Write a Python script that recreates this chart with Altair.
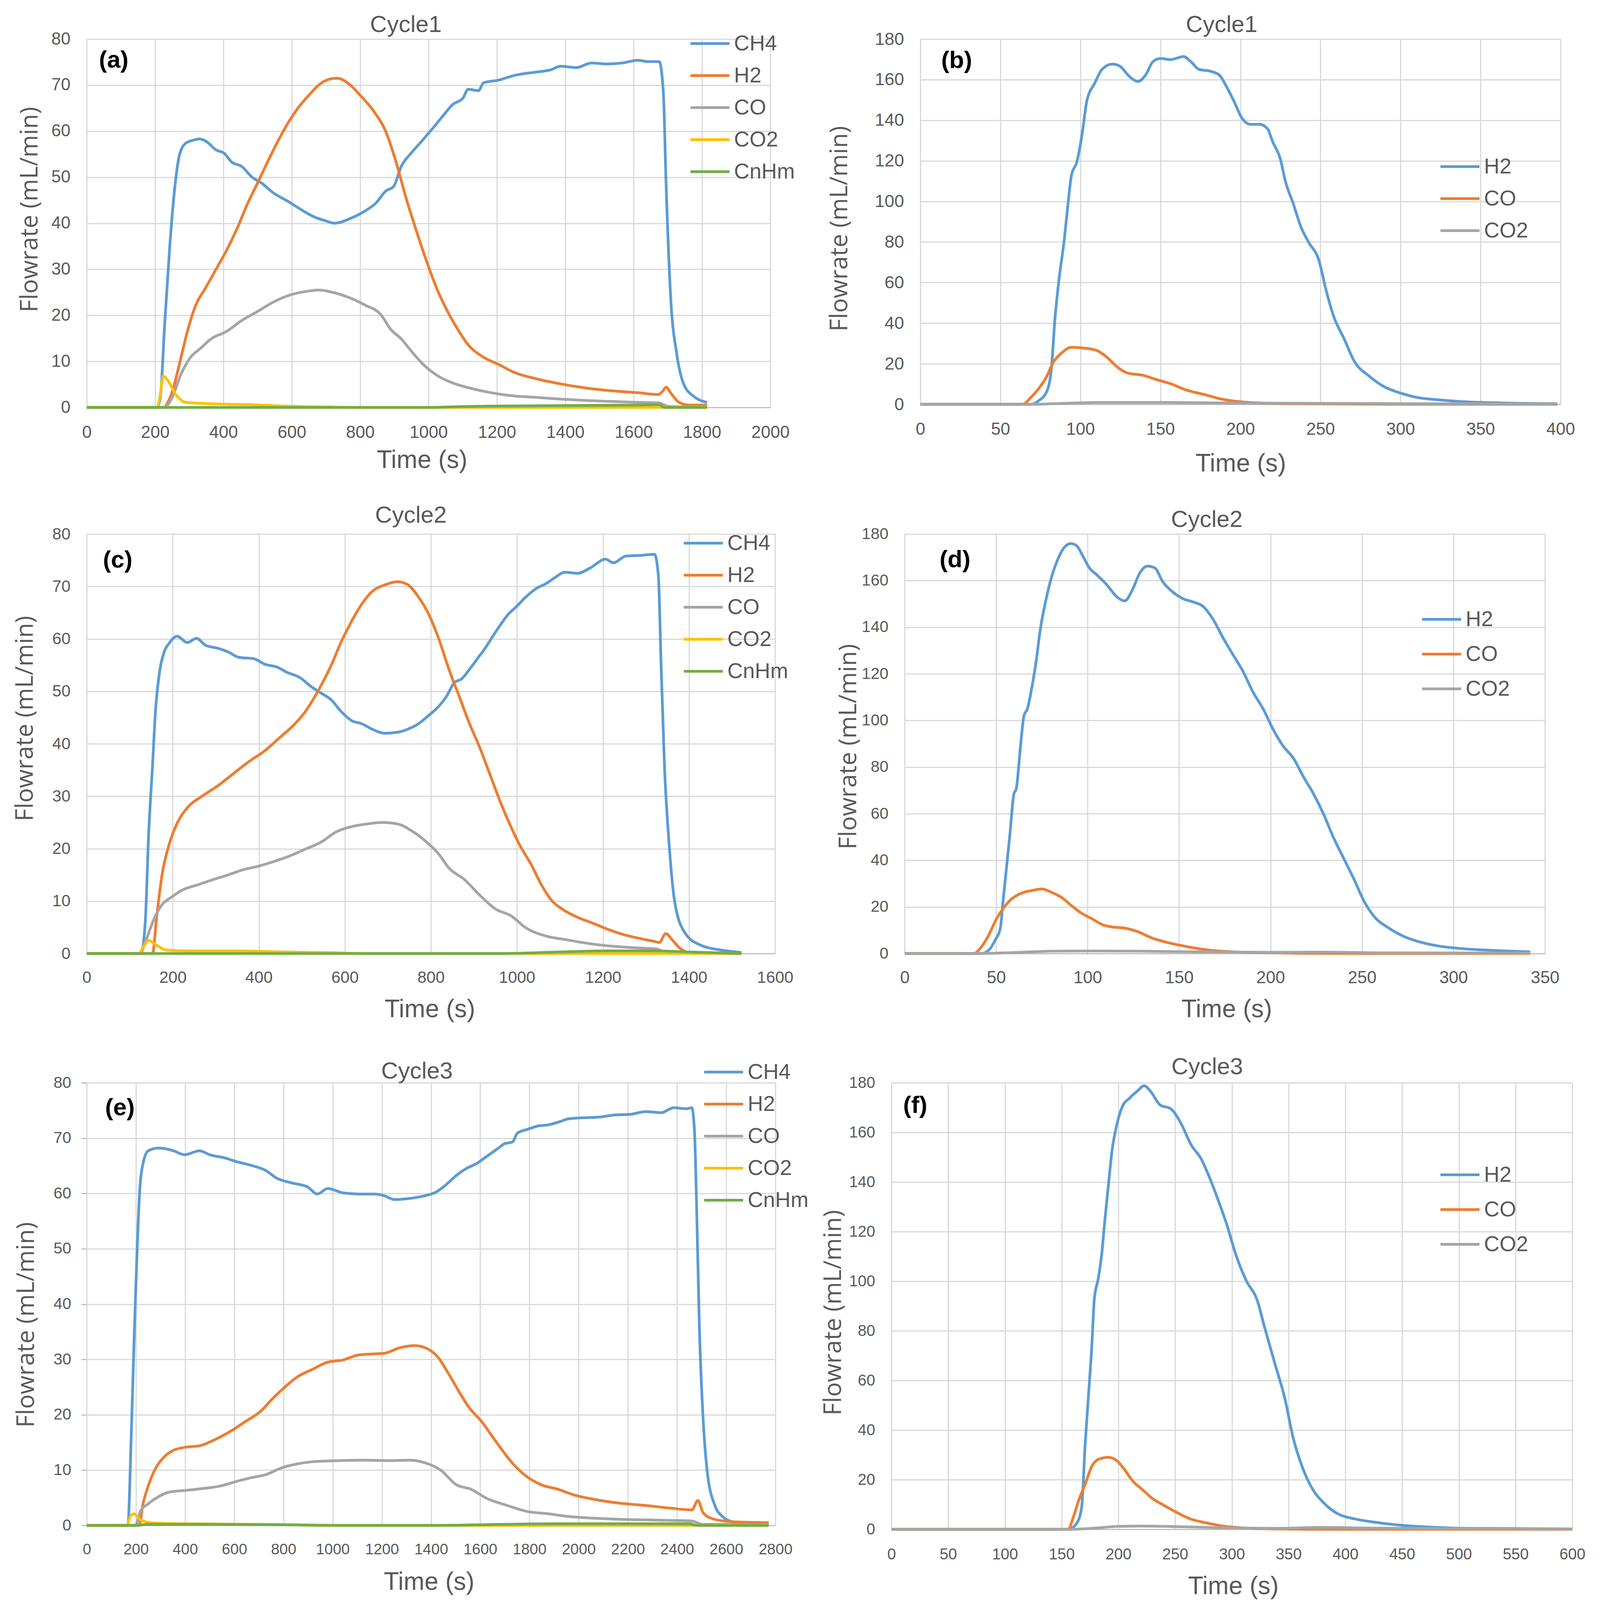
import altair as alt
import pandas as pd

# ---------------- Panel (a): Cycle1, CH4 feeding ----------------
A_CH4_T = [0, 205, 215, 228, 243, 258, 272, 290, 310, 330, 349, 379, 402, 424, 454, 484, 514, 544, 590, 620, 665, 700, 725, 770, 815, 845, 875, 898, 920, 950, 981, 1011, 1041, 1071, 1101, 1116, 1146, 1161, 1206, 1251, 1311, 1357, 1387, 1432, 1477, 1522, 1567, 1612, 1642, 1675, 1687, 1695, 1710, 1725, 1747, 1778, 1815]
A_CH4_V = [0, 0, 2, 18, 35, 48, 55, 57.4, 58, 58.3, 57.8, 55.9, 55.2, 53.3, 52.3, 50, 48.6, 46.7, 44.7, 43.3, 41.4, 40.5, 40, 41, 42.7, 44.3, 47, 48, 52.3, 55.3, 57.9, 60.5, 63.2, 65.8, 67.2, 69.1, 68.8, 70.5, 71.1, 72.1, 72.8, 73.3, 74.1, 73.8, 74.8, 74.6, 74.8, 75.4, 75.1, 75.1, 68.5, 48.6, 22, 12.2, 5, 2.3, 1.1]
A_H2_T = [0, 225, 240, 251, 274, 296, 319, 349, 379, 409, 439, 469, 499, 529, 560, 590, 620, 650, 680, 710, 732, 770, 800, 838, 875, 905, 935, 966, 996, 1026, 1056, 1086, 1116, 1161, 1206, 1251, 1311, 1387, 1462, 1537, 1612, 1672, 1685, 1695, 1710, 1733, 1763, 1815]
A_H2_V = [0, 0, 1.5, 3.6, 10.3, 16.9, 22.2, 26.1, 30.1, 34.1, 38.7, 44, 48.6, 53.3, 57.9, 61.9, 65.2, 67.8, 70.1, 71.3, 71.5, 70.1, 67.8, 64.5, 59.9, 53.3, 45.3, 38, 31.4, 25.5, 20.8, 16.9, 13.6, 10.9, 9.3, 7.6, 6.3, 5.1, 4.2, 3.6, 3.2, 2.8, 3.5, 4.4, 3.0, 1.1, 0.5, 0.5]
A_CO_T = [0, 225, 251, 274, 304, 334, 364, 409, 454, 499, 544, 590, 635, 680, 725, 770, 815, 860, 890, 920, 950, 981, 1026, 1071, 1116, 1176, 1236, 1311, 1387, 1462, 1537, 1612, 1672, 1703, 1815]
A_CO_V = [0, 0, 2.3, 6.9, 10.9, 12.9, 14.9, 16.5, 18.9, 20.8, 22.8, 24.3, 25.1, 25.5, 24.9, 23.8, 22.2, 20.2, 16.9, 14.9, 12.2, 9.6, 6.9, 5.3, 4.3, 3.3, 2.6, 2.2, 1.8, 1.5, 1.3, 1.1, 1.0, 0.2, 0.1]
A_CO2_T = [0, 206, 214, 224, 236, 259, 289, 334, 409, 484, 574, 710, 785, 1815]
A_CO2_V = [0, 0, 2.3, 6.8, 6.0, 3.0, 1.1, 0.9, 0.7, 0.6, 0.3, 0.1, 0, 0]
A_CNHM_T = [0, 1000, 1100, 1200, 1400, 1600, 1675, 1690, 1815]
A_CNHM_V = [0, 0, 0.2, 0.3, 0.4, 0.5, 0.6, 0, 0]

# ---------------- Panel (b): Cycle1, regeneration ----------------
B_H2_T = [0, 69, 74, 79, 82, 84, 86.5, 90, 92, 94.5, 97.7, 101, 104, 109, 113.6, 120, 124.7, 131, 136, 140.6, 145.4, 150, 156.5, 164.5, 169, 174, 182, 187, 191.6, 196, 201, 206, 212, 217, 220, 225, 228, 233, 237.7, 242.5, 249, 253.6, 258, 265, 271, 280.6, 290, 299.7, 309, 325, 341, 357, 373, 398]
B_H2_V = [0, 0, 1.8, 6.3, 18.4, 41, 60.5, 81.6, 96.6, 113.2, 119.2, 132.7, 149.3, 158.3, 165.1, 167.7, 166.6, 161.3, 159.1, 162.1, 168.9, 170.4, 169.9, 171.4, 168.9, 165.1, 164, 162.1, 156.1, 149.3, 141, 138, 138, 135.7, 129.7, 120.7, 110.2, 98.9, 87.6, 80, 71, 56, 43.9, 31.9, 21.4, 13.8, 8.6, 5.6, 3.6, 2.1, 1.2, 0.8, 0.5, 0.3]
B_CO_T = [0, 64, 69, 74, 79, 83, 88, 94.5, 102, 110, 117, 123, 129.5, 139, 147, 156.5, 166, 179, 188, 198, 214, 230, 262, 300, 398]
B_CO_V = [0, 0, 3.3, 7.8, 13.8, 20.6, 25.1, 28.1, 27.7, 26.6, 22.9, 18.4, 15.4, 14.3, 12.3, 10.1, 7.1, 4.5, 2.6, 1.4, 0.6, 0.3, 0.15, 0, 0]
B_CO2_T = [0, 70, 90, 110, 150, 200, 250, 300, 398]
B_CO2_V = [0, 0, 0.5, 0.9, 0.9, 0.6, 0.5, 0.3, 0.2]

# ---------------- Panel (c): Cycle2, CH4 feeding ----------------
C_CH4_T = [0, 126, 136, 144, 153, 160, 168, 180, 192, 210, 234, 255, 276, 305, 329, 353, 389, 413, 443, 466, 496, 520, 544, 568, 592, 616, 640, 663, 693, 723, 747, 771, 795, 818, 836, 854, 872, 890, 908, 926, 944, 962, 980, 997, 1021, 1045, 1069, 1087, 1111, 1141, 1170, 1206, 1224, 1254, 1284, 1320, 1329, 1335, 1343, 1355, 1367, 1391, 1427, 1475, 1522]
C_CH4_V = [0, 0, 5.9, 22.9, 35.9, 46.4, 52.9, 57.5, 59.2, 60.5, 59.3, 60.1, 58.8, 58.2, 57.5, 56.5, 56.2, 55.2, 54.6, 53.6, 52.6, 51, 49.7, 48.4, 46.1, 44.4, 43.8, 42.8, 42, 42.2, 42.8, 43.8, 45.4, 47.1, 49, 51.6, 52.4, 54.2, 56.2, 58.2, 60.5, 62.7, 64.7, 66, 68, 69.6, 70.6, 71.6, 72.7, 72.5, 73.5, 75.2, 74.5, 75.8, 75.9, 76.1, 71.9, 55.6, 35.9, 19.6, 9.8, 3.9, 1.6, 0.65, 0.2]
C_H2_T = [0, 153, 162, 174, 192, 210, 234, 270, 305, 341, 377, 413, 449, 484, 508, 526, 544, 568, 592, 616, 640, 663, 693, 723, 747, 771, 795, 818, 842, 866, 890, 914, 938, 962, 986, 1009, 1033, 1057, 1081, 1105, 1141, 1176, 1212, 1248, 1284, 1320, 1331, 1346, 1361, 1379, 1403, 1522]
C_H2_V = [0, 0, 6.5, 14.4, 20.9, 24.8, 27.8, 30.1, 32, 34.3, 36.6, 38.6, 41.2, 43.8, 46.1, 48.4, 51, 54.9, 59.5, 63.4, 66.7, 69, 70.3, 70.9, 70.3, 68, 64.7, 60.1, 54.2, 49, 43.8, 39.2, 34, 28.8, 24.2, 20.3, 17, 13.1, 10.1, 8.5, 6.9, 5.8, 4.6, 3.6, 2.9, 2.3, 2.1, 3.8, 2.6, 1.0, 0.1, 0]
C_CO_T = [0, 124, 138, 156, 174, 198, 222, 258, 294, 329, 365, 401, 437, 472, 508, 544, 580, 616, 651, 687, 723, 759, 795, 818, 842, 878, 914, 950, 986, 1021, 1069, 1117, 1176, 1236, 1296, 1326, 1343, 1391, 1522]
C_CO_V = [0, 0, 2.6, 6.5, 9.2, 10.8, 12.1, 13.1, 14.1, 15, 16, 16.7, 17.6, 18.6, 19.9, 21.2, 23.2, 24.2, 24.7, 25, 24.7, 23.2, 20.9, 19, 16.3, 14.1, 11.1, 8.5, 7.2, 4.9, 3.3, 2.6, 1.8, 1.3, 1.0, 0.85, 0.3, 0.1, 0]
C_CO2_T = [0, 121, 132, 144, 162, 186, 234, 341, 461, 580, 640, 1522]
C_CO2_V = [0, 0, 1.3, 2.5, 1.6, 0.65, 0.5, 0.5, 0.3, 0.15, 0, 0]
C_CNHM_T = [0, 960, 1100, 1200, 1320, 1400, 1522]
C_CNHM_V = [0, 0, 0.3, 0.5, 0.5, 0.3, 0]

# ---------------- Panel (d): Cycle2, regeneration ----------------
D_H2_T = [0, 42, 46, 49.5, 52.3, 53.7, 55.6, 57.5, 59.7, 61, 63.3, 65.2, 67.1, 69.4, 71.6, 74.3, 77, 80.4, 84.5, 87.2, 90.8, 94.1, 97.4, 101, 105, 110.6, 116, 120.3, 124.4, 128.5, 132.6, 136.8, 141, 146.4, 152, 157.4, 163, 168.4, 174, 179.4, 185, 190.4, 196, 201.4, 207, 212.5, 218, 223.5, 229, 234.5, 240, 245.5, 251, 256.5, 264.7, 273, 281, 292, 303, 317, 331, 342]
D_H2_V = [0, 0, 1.5, 5.8, 10.9, 21.9, 36.4, 51, 68.5, 70.7, 88.9, 102, 105, 113.7, 123.9, 139.9, 150.9, 161.8, 170.5, 174.2, 175.9, 174.9, 170.5, 165.4, 162.5, 158.1, 153, 151.3, 155.9, 163.2, 166.2, 165.4, 159.6, 155.2, 152.3, 150.9, 149, 143.6, 135.5, 128.3, 121, 112.2, 104.9, 96.2, 88.9, 83.8, 75.8, 68.5, 59.8, 49.6, 40.8, 32.1, 22.6, 16, 10.9, 7.3, 5.1, 3.2, 2.2, 1.5, 1.0, 0.7]
D_CO_T = [0, 37.7, 42, 46, 50, 54.2, 58.3, 63.8, 69.4, 74.9, 80.4, 85.9, 91.4, 96.9, 102.4, 108, 113.4, 120.3, 127, 135.4, 143.7, 154.7, 165.7, 179.4, 193, 220.7, 250, 342]
D_CO_V = [0, 0, 2.9, 8, 14.6, 19.7, 23.3, 25.9, 27, 27.7, 26.2, 24, 20.4, 17.2, 14.9, 12.4, 11.4, 10.9, 9.5, 6.6, 4.7, 2.9, 1.5, 0.7, 0.4, 0.1, 0, 0]
D_CO2_T = [0, 40, 60, 80, 100, 130, 150, 200, 230, 260, 342]
D_CO2_V = [0, 0, 0.4, 1.0, 1.1, 1.0, 0.8, 0.5, 0.6, 0.3, 0.2]

# ---------------- Panel (e): Cycle3, CH4 feeding ----------------
E_CH4_T = [0, 167, 181, 194, 204, 215, 229, 250, 292, 354, 396, 459, 500, 563, 605, 667, 730, 771, 834, 897, 938, 980, 1042, 1105, 1168, 1209, 1251, 1313, 1376, 1418, 1459, 1501, 1543, 1585, 1626, 1668, 1699, 1731, 1751, 1793, 1835, 1876, 1918, 1960, 2022, 2085, 2147, 2210, 2272, 2335, 2387, 2439, 2460, 2471, 2481, 2491, 2506, 2523, 2554, 2585, 2627, 2690, 2773]
E_CH4_V = [0, 0, 16.2, 35.6, 48.6, 60.2, 65.4, 67.7, 68.2, 67.7, 67, 67.7, 67, 66.4, 65.8, 65.1, 64.1, 62.8, 61.9, 61.2, 59.9, 60.9, 60.1, 59.9, 59.9, 59.6, 58.9, 59.1, 59.6, 60.2, 61.5, 63.2, 64.5, 65.4, 66.7, 68, 69, 69.3, 70.9, 71.6, 72.2, 72.4, 72.9, 73.5, 73.7, 73.8, 74.2, 74.3, 74.8, 74.6, 75.5, 75.3, 75.5, 71.3, 55.1, 35.6, 19.4, 9.7, 3.6, 1.6, 0.65, 0.3, 0.2]
E_H2_T = [0, 213, 229, 250, 281, 313, 354, 396, 459, 521, 584, 646, 709, 751, 803, 855, 917, 980, 1042, 1105, 1168, 1209, 1272, 1334, 1386, 1428, 1470, 1512, 1553, 1605, 1668, 1730, 1793, 1845, 1918, 1981, 2064, 2168, 2272, 2377, 2460, 2485, 2506, 2544, 2627, 2773]
E_H2_V = [0, 0, 3.9, 7.1, 10.4, 12.3, 13.6, 14.1, 14.4, 15.5, 17, 18.8, 20.7, 22.7, 24.9, 26.8, 28.2, 29.5, 29.9, 30.8, 31, 31.1, 32.1, 32.5, 31.9, 30.4, 27.5, 24.3, 21.4, 18.8, 14.9, 11.3, 8.7, 7.4, 6.5, 5.5, 4.7, 4, 3.6, 3.1, 2.8, 4.5, 2.3, 1.2, 0.65, 0.5]
E_CO_T = [0, 198, 219, 250, 292, 334, 396, 459, 542, 605, 667, 730, 792, 855, 917, 1022, 1126, 1230, 1313, 1376, 1439, 1501, 1564, 1626, 1710, 1793, 1876, 1960, 2064, 2168, 2272, 2377, 2460, 2502, 2773]
E_CO_V = [0, 0, 2.6, 3.9, 5.2, 6, 6.3, 6.6, 7.1, 7.9, 8.6, 9.2, 10.4, 11.1, 11.5, 11.7, 11.8, 11.7, 11.8, 11.3, 10, 7.4, 6.5, 4.9, 3.6, 2.5, 2.1, 1.6, 1.3, 1.1, 1.0, 0.9, 0.8, 0.2, 0.1]
E_CO2_T = [0, 163, 177, 192, 219, 271, 396, 709, 1126, 2773]
E_CO2_V = [0, 0, 1.6, 2.1, 1.0, 0.45, 0.3, 0.2, 0, 0]
E_CNHM_T = [0, 200, 250, 500, 800, 1000, 1400, 1700, 1900, 2450, 2480, 2773]
E_CNHM_V = [0, 0, 0.2, 0.2, 0.1, 0, 0, 0.2, 0.3, 0.3, 0, 0]

# ---------------- Panel (f): Cycle3, regeneration ----------------
F_H2_T = [0, 156, 163, 167.6, 170.7, 173.4, 176.6, 178.8, 182.4, 185.5, 187.8, 191.3, 194.5, 199, 203.4, 210, 217, 222.7, 228, 237, 246, 255, 264, 273, 282, 288.6, 295.3, 304, 313, 322, 329, 338, 347, 353.6, 362.5, 371.5, 380.4, 394, 407, 425, 447.7, 474.5, 506, 551, 600]
F_H2_V = [0, 0, 2.2, 8.7, 34, 52.2, 73.9, 92.8, 101.4, 111.6, 123.2, 139.1, 152.9, 163.8, 170.3, 173.9, 176.8, 178.8, 176.8, 171, 169.6, 163.8, 155.1, 149.3, 139.9, 131.9, 123.2, 110.1, 100, 92.8, 81.2, 66.7, 52.2, 37.7, 24.6, 15.9, 10.9, 6.1, 4.3, 2.9, 1.7, 0.9, 0.4, 0.3, 0.1]
F_CO_T = [0, 155.5, 161, 165, 170.7, 176.6, 183, 191.3, 199, 205.7, 212.4, 221.4, 230.3, 239.3, 250.5, 264, 277.4, 290.8, 308.7, 335.6, 371.5, 600]
F_CO_V = [0, 0, 5.8, 11.6, 18.1, 25.4, 28.3, 29, 27.5, 23.9, 19.6, 15.9, 12.3, 9.9, 7, 4.1, 2.6, 1.4, 0.6, 0.15, 0, 0]
F_CO2_T = [0, 160, 180, 200, 220, 260, 300, 340, 380, 420, 500, 600]
F_CO2_V = [0, 0, 0.5, 1.2, 1.3, 1.0, 0.5, 0.4, 0.8, 0.5, 0.3, 0.1]

FEED_NAMES = ["CH4", "H2", "CO", "CO2", "CnHm"]
FEED_COLORS = ["#5B9BD5", "#ED7D31", "#A5A5A5", "#FFC000", "#70AD47"]
REG_NAMES = ["H2", "CO", "CO2"]
REG_COLORS = ["#5B9BD5", "#ED7D31", "#A5A5A5"]

LAB_FONT = "Liberation Sans"
YT_FONT = "Open Sans"
TXT = "#595959"
GRID = "#D9D9D9"


def make_df(names, ts_list, vs_list):
    rows = []
    for name, ts, vs in zip(names, ts_list, vs_list):
        for t, v in zip(ts, vs):
            rows.append({"series": name, "t": t, "v": v})
    return pd.DataFrame(rows)


def panel(df, names, colors, xmax, xstep, ymax, ystep, w, h, title, tdx, toff,
          xls, xlp, xtx, xty, yls, ylp, ytx, yty, lx, ly, lrp, tag, tag_t, tag_v,
          yticks=False):
    xenc = alt.X("t:Q", scale=alt.Scale(domain=[0, xmax], nice=False, zero=False),
                 axis=alt.Axis(values=list(range(0, xmax + 1, xstep)), format="d",
                               grid=True, gridColor=GRID, gridWidth=3, domain=True,
                               domainColor="#BFBFBF", domainWidth=3, ticks=False,
                               labelFont=LAB_FONT, labelFontSize=xls, labelColor=TXT,
                               labelPadding=xlp, labelFlush=False, labelOverlap=False,
                               title="Time (s)", titleFont=LAB_FONT, titleFontSize=64,
                               titleFontWeight="normal", titleColor=TXT,
                               titleX=xtx, titleY=xty, titleAlign="center",
                               titleBaseline="alphabetic"))
    yaxis_kw = dict(values=list(range(0, ymax + 1, ystep)), format="d", grid=True,
                    gridColor=GRID, gridWidth=3, domain=False,
                    labelFont=LAB_FONT, labelFontSize=yls, labelColor=TXT,
                    labelPadding=ylp, labelOverlap=False,
                    title="Flowrate (mL/min)", titleFont=YT_FONT, titleFontSize=62,
                    titleFontWeight="normal", titleColor=TXT, titleAngle=270,
                    titleX=ytx, titleY=yty, titleAlign="center",
                    titleBaseline="alphabetic")
    if yticks:
        yaxis_kw.update(ticks=True, tickSize=14, tickColor="#BFBFBF", tickWidth=3)
    else:
        yaxis_kw.update(ticks=False)
    yenc = alt.Y("v:Q", scale=alt.Scale(domain=[0, ymax], nice=False, zero=True),
                 axis=alt.Axis(**yaxis_kw))
    cenc = alt.Color("series:N", scale=alt.Scale(domain=names, range=colors),
                     legend=alt.Legend(orient="none", legendX=lx, legendY=ly,
                                       title=None, symbolType="stroke",
                                       symbolSize=10000, symbolStrokeWidth=7,
                                       labelFont=LAB_FONT, labelFontSize=55,
                                       labelColor=TXT, labelOffset=8,
                                       rowPadding=lrp, padding=0, labelLimit=0))
    base = alt.Chart(df).encode(x=xenc, y=yenc, color=cenc)
    layers = [base.transform_filter(alt.datum.series == s)
              .mark_line(strokeWidth=7, interpolate="monotone", strokeJoin="round")
              for s in names]
    tagdf = pd.DataFrame({"t": [tag_t], "v": [tag_v], "label": [tag]})
    tag_layer = alt.Chart(tagdf).mark_text(
        font=LAB_FONT, fontSize=62, fontWeight="bold", color="black",
        align="center", baseline="middle").encode(x=xenc, y=yenc, text="label:N")
    return alt.layer(*layers, tag_layer).properties(
        width=w, height=h,
        title=alt.TitleParams(text=title, font=LAB_FONT, fontSize=60,
                              fontWeight="normal", color=TXT, anchor="middle",
                              frame="group", dx=tdx, offset=toff))


dfa = make_df(FEED_NAMES, [A_CH4_T, A_H2_T, A_CO_T, A_CO2_T, A_CNHM_T],
              [A_CH4_V, A_H2_V, A_CO_V, A_CO2_V, A_CNHM_V])
dfb = make_df(REG_NAMES, [B_H2_T, B_CO_T, B_CO2_T], [B_H2_V, B_CO_V, B_CO2_V])
dfc = make_df(FEED_NAMES, [C_CH4_T, C_H2_T, C_CO_T, C_CO2_T, C_CNHM_T],
              [C_CH4_V, C_H2_V, C_CO_V, C_CO2_V, C_CNHM_V])
dfd = make_df(REG_NAMES, [D_H2_T, D_CO_T, D_CO2_T], [D_H2_V, D_CO_V, D_CO2_V])
dfe = make_df(FEED_NAMES, [E_CH4_T, E_H2_T, E_CO_T, E_CO2_T, E_CNHM_T],
              [E_CH4_V, E_H2_V, E_CO_V, E_CO2_V, E_CNHM_V])
dff = make_df(REG_NAMES, [F_H2_T, F_CO_T, F_CO2_T], [F_H2_V, F_CO_V, F_CO2_V])

# The page is photographed about 4097 px tall, so the layout is drawn with its
# vertical sizes at 0.924 of the reference so that every text stays in view.
pa = panel(dfa, FEED_NAMES, FEED_COLORS, 2000, 200, 80, 10, 1750, 943, "Cycle1", -58, -37,
           44, 42, 858, 154, 44, 42, -127, 436, 1542, -42, 0, "(a)", 79, 75.4)
pb = panel(dfb, REG_NAMES, REG_COLORS, 400, 50, 180, 20, 1639, 935, "Cycle1", -48, -17,
           44, 42, 820, 171, 45, 42, -188, 485, 1328, 273, 0, "(b)", 22.7, 169.5)
pc = panel(dfc, FEED_NAMES, FEED_COLORS, 1600, 200, 80, 10, 1762, 1074, "Cycle2", -51, -14,
           42, 41, 878, 162, 42, 42, -139, 472, 1525, -30, 0, "(c)", 72, 75)
pd_ = panel(dfd, REG_NAMES, REG_COLORS, 350, 50, 180, 20, 1639, 1074, "Cycle2", -46, -16,
            44, 40, 824, 162, 41, 42, -125, 544, 1321, 165, 7, "(d)", 27.5, 168.9)
pe = panel(dfe, FEED_NAMES, FEED_COLORS, 2800, 200, 80, 10, 1763, 1133, "Cycle3", -36, -83,
           39, 42, 876, 164, 41, 26, -136, 619, 1577, -81, 0, "(e)", 135, 75.5,
           yticks=True)
pf = panel(dff, REG_NAMES, REG_COLORS, 600, 50, 180, 20, 1743, 1143, "Cycle3", -63, -11,
           40, 44, 875, 165, 40, 42, -130, 588, 1402, 182, 7, "(f)", 21, 170.8)


def row(a, b, gap):
    # plot areas placed by their own width: left panel at 0, right one after the gap
    return alt.hconcat(a, b, spacing=gap, bounds="flush").resolve_scale(
        color="independent")


row1 = row(pa, pb, 384)
row2 = row(pc, pd_, 332)
row3 = row(pe, pf, 297)

lower = alt.vconcat(row2, row3, spacing=73).resolve_scale(color="independent")
chart = alt.vconcat(row1, lower, spacing=69).resolve_scale(color="independent").properties(
    padding={"left": 24, "top": 25, "right": 5, "bottom": 5}
).configure_view(stroke=None).configure(background="white")

chart.save("out.html", embed_options={"renderer": "svg", "actions": False})
